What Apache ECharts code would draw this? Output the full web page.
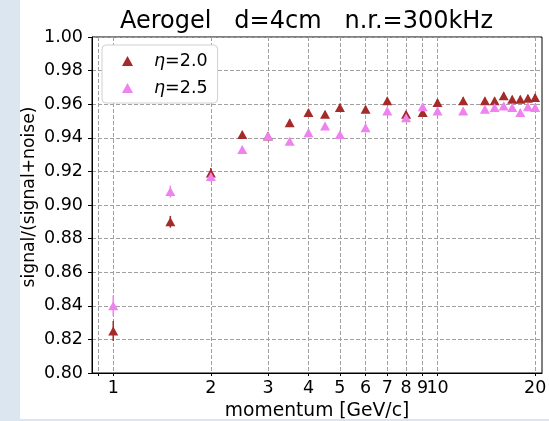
<!DOCTYPE html>
<html><head><meta charset="utf-8">
<script src="https://cdn.jsdelivr.net/npm/echarts@6/dist/echarts.min.js"></script>
<style>html,body{margin:0;padding:0;background:#fff}#c{width:549px;height:421px}</style>
</head><body><div id="c"></div>
<script>
const momentum = [1, 1.5, 2, 2.5, 3, 3.5, 4, 4.5, 5, 6, 7, 8, 9, 10, 12, 14, 15, 16, 17, 18, 19, 20];
const eta20 = [0.825, 0.890, 0.919, 0.942, 0.941, 0.949, 0.955, 0.954, 0.958, 0.957, 0.962, 0.954, 0.955, 0.961, 0.962, 0.962, 0.962, 0.965, 0.963, 0.963, 0.9635, 0.964];
const eta25 = [0.840, 0.908, 0.917, 0.933, 0.941, 0.938, 0.943, 0.947, 0.942, 0.946, 0.956, 0.952, 0.9585, 0.956, 0.956, 0.957, 0.958, 0.959, 0.958, 0.955, 0.9585, 0.958];
const err20 = [0.006, 0.0035, 0.003, 0.002, 0.002, 0.002, 0.002, 0.002, 0.002, 0.002, 0.002, 0.002, 0.002, 0.002, 0.002, 0.002, 0.002, 0.002, 0.002, 0.002, 0.002, 0.002];
const err25 = [0.006, 0.0035, 0.003, 0.002, 0.002, 0.002, 0.002, 0.002, 0.002, 0.002, 0.002, 0.002, 0.002, 0.002, 0.002, 0.002, 0.002, 0.002, 0.002, 0.002, 0.002, 0.002];
const xTicks = [1, 2, 3, 4, 5, 6, 7, 8, 9, 10, 20];
const xMinorTicks = [0.9, 1, 2, 3, 4, 5, 6, 7, 8, 9, 10, 20];
const seriesNames = ['η=2.0', 'η=2.5'];
const colors = ['#a52a2a', '#ee82ee'];

const chart = echarts.init(document.getElementById('c'), null, {renderer: 'canvas'});
const FONT = 'DejaVu Sans';

function errSeries(vals, errs, color) {
  return {
    type: 'custom',
    silent: true,
    z: 2,
    data: momentum.map((m, i) => [m, vals[i] - errs[i], vals[i] + errs[i]]),
    renderItem: function (params, api) {
      const p1 = api.coord([api.value(0), api.value(1)]);
      const p2 = api.coord([api.value(0), api.value(2)]);
      return {type: 'line', shape: {x1: p1[0], y1: p1[1], x2: p2[0], y2: p2[1]}, style: {stroke: color, lineWidth: 1.5}};
    }
  };
}

const option = {
  animation: false,
  textStyle: {fontFamily: FONT},
  title: {
    text: 'Aerogel   d=4cm   n.r.=300kHz',
    left: 115, top: 5,
    textStyle: {fontFamily: FONT, fontSize: 24, fontWeight: 'normal', color: '#000'}
  },
  graphic: [
    {type: 'rect', left: 0, top: 0, shape: {width: 20, height: 421}, style: {fill: '#dce6f1'}, z: -10},
    {type: 'rect', left: 0, top: 419, shape: {width: 549, height: 2}, style: {fill: '#dce6f1'}, z: -10}
  ],
  legend: {
    orient: 'vertical',
    left: 102, top: 45,
    padding: [7, 10, 6, 20],
    itemGap: 9,
    itemWidth: 11, itemHeight: 10,
    backgroundColor: '#fff',
    borderColor: '#d0d0d0', borderWidth: 1, borderRadius: 4,
    textStyle: {fontFamily: FONT, fontSize: 17.5, color: '#000', padding: [0, 0, 0, 16],
      rich: {i: {fontStyle: 'italic', fontFamily: FONT, fontSize: 17.5}}},
    formatter: function (name) { return '{i|η}' + name.slice(1); },
    data: seriesNames.map((n, i) => ({name: n, icon: 'triangle', itemStyle: {color: colors[i]}}))
  },
  grid: {left: 92, right: 7, top: 37, bottom: 48, show: true, borderColor: '#000', borderWidth: 1,
    backgroundColor: 'transparent', containLabel: false, outerBoundsMode: 'none'},
  xAxis: {
    type: 'log', min: 0.86, max: 21, logBase: 10,
    name: 'momentum [GeV/c]', nameLocation: 'middle', nameGap: 29, nameMoveOverlap: false,
    nameTextStyle: {fontFamily: FONT, fontSize: 18.7, color: '#000'},
    axisLine: {show: true, onZero: false, lineStyle: {color: '#000'}},
    axisTick: {show: true, length: 3, customValues: xMinorTicks, lineStyle: {color: '#000'}},
    axisLabel: {customValues: xTicks, fontFamily: FONT, fontSize: 17.5, color: '#000', margin: 6,
      formatter: v => String(Math.round(v))},
    splitLine: {show: true, lineStyle: {color: '#a0a0a0', type: [4, 2], width: 1}},
    minorTick: {show: false}
  },
  yAxis: {
    type: 'value', min: 0.8, max: 1.0, interval: 0.02,
    name: 'signal/(signal+noise)', nameLocation: 'middle', nameGap: 54, nameMoveOverlap: false,
    nameTextStyle: {fontFamily: FONT, fontSize: 17.2, color: '#000', padding: [0, 0, 0, 16]},
    axisLine: {show: true, lineStyle: {color: '#000'}},
    axisTick: {show: true, length: 4, lineStyle: {color: '#000'}},
    axisLabel: {fontFamily: FONT, fontSize: 17.5, color: '#000', margin: 9, formatter: v => v.toFixed(2)},
    splitLine: {show: true, lineStyle: {color: '#a0a0a0', type: [4, 2], width: 1}}
  },
  series: [
    errSeries(eta20, err20, colors[0]),
    {name: seriesNames[0], type: 'scatter', symbol: 'triangle', symbolSize: [10, 9], z: 3,
      itemStyle: {color: colors[0], opacity: 1}, data: momentum.map((m, i) => [m, eta20[i]])},
    errSeries(eta25, err25, colors[1]),
    {name: seriesNames[1], type: 'scatter', symbol: 'triangle', symbolSize: [10, 9], z: 4,
      itemStyle: {color: colors[1], opacity: 1}, data: momentum.map((m, i) => [m, eta25[i]])}
  ]
};
chart.setOption(option);
</script></body></html>
